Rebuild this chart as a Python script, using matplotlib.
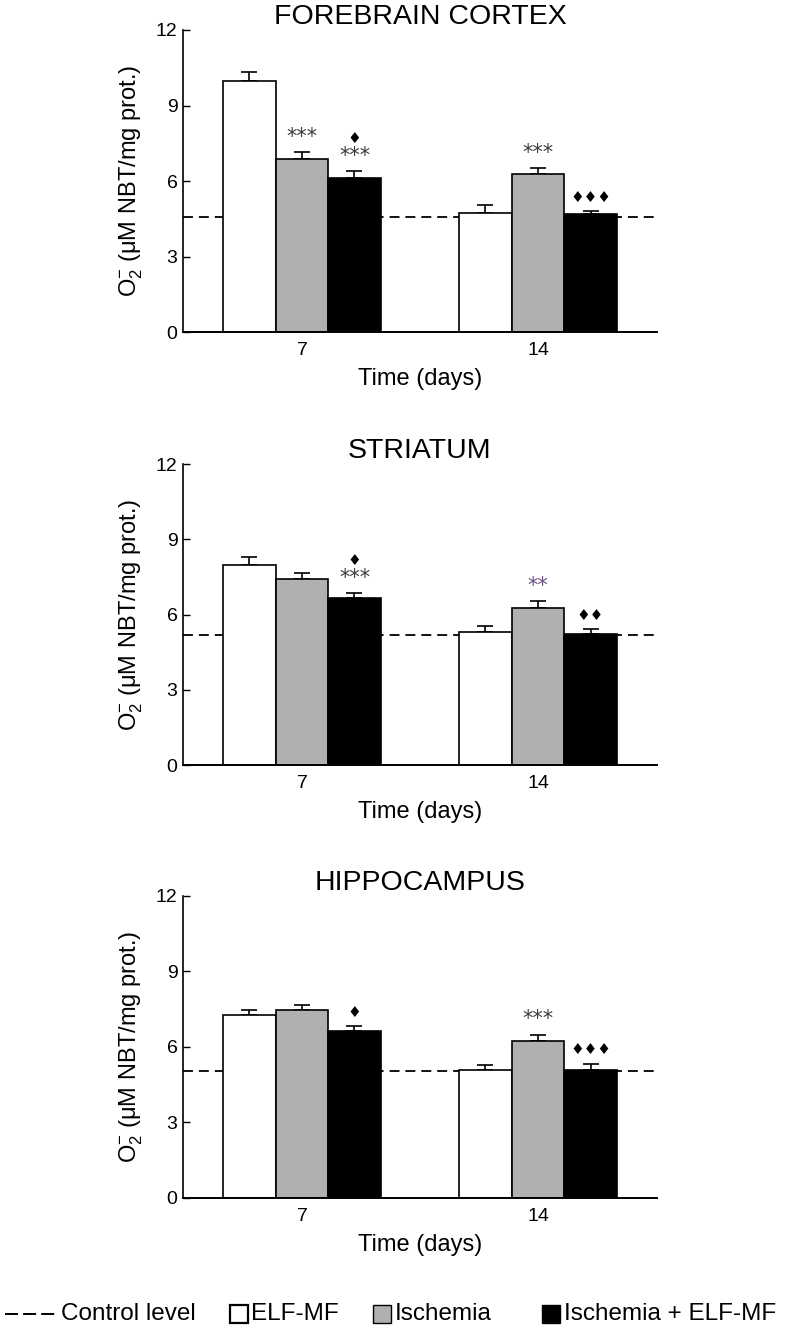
import numpy as np
import matplotlib
matplotlib.use("Agg")
import matplotlib.pyplot as plt
from matplotlib.patches import Rectangle
from matplotlib.lines import Line2D

plt.rcParams['font.family'] = ['Liberation Sans', 'DejaVu Sans']
plt.rcParams['mathtext.fontset'] = 'custom'
plt.rcParams['mathtext.rm'] = 'Liberation Sans'
plt.rcParams['mathtext.it'] = 'Liberation Sans'

# data
days = ["7", "14"]
groups = ["ELF-MF", "Ischemia", "Ischemia + ELF-MF"]
colors = ["white", "#b0b0b0", "black"]
regions = ["FOREBRAIN CORTEX", "STRIATUM", "HIPPOCAMPUS"]

cortex_mean = [[9.96, 4.73], [6.88, 6.26], [6.12, 4.67]]
cortex_err = [[0.37, 0.32], [0.26, 0.26], [0.26, 0.12]]
cortex_control = 4.56

striatum_mean = [[7.97, 5.29], [7.42, 6.24], [6.66, 5.24]]
striatum_err = [[0.34, 0.27], [0.25, 0.30], [0.18, 0.18]]
striatum_control = 5.18

hippo_mean = [[7.25, 5.08], [7.45, 6.23], [6.63, 5.09]]
hippo_err = [[0.20, 0.21], [0.22, 0.26], [0.20, 0.25]]
hippo_control = 5.05

# significance marks: (group, day) -> list of (text, color) from bottom up
star = "#3c3c3c"
cortex_marks = {(1, 0): [("***", star)],
                (2, 0): [("***", star), ("\u2666", "black")],
                (1, 1): [("***", star)],
                (2, 1): [("\u2666\u2666\u2666", "black")]}
striatum_marks = {(2, 0): [("***", star), ("\u2666", "black")],
                  (1, 1): [("**", "#6e4f80")],
                  (2, 1): [("\u2666\u2666", "black")]}
hippo_marks = {(2, 0): [("\u2666", "black")],
               (1, 1): [("***", star)],
               (2, 1): [("\u2666\u2666\u2666", "black")]}

panels = [
    (regions[0], cortex_mean, cortex_err, cortex_control, cortex_marks),
    (regions[1], striatum_mean, striatum_err, striatum_control, striatum_marks),
    (regions[2], hippo_mean, hippo_err, hippo_control, hippo_marks),
]

fig = plt.figure(figsize=(7.85, 13.33), dpi=100)
rects = [[0.2331, 0.7509, 0.6038, 0.2266],
         [0.2331, 0.4261, 0.6038, 0.2258],
         [0.2331, 0.1013, 0.6038, 0.2266]]
width = 0.2225
x = np.arange(len(days))

for (title, mean, err, control, marks), rect in zip(panels, rects):
    ax = fig.add_axes(rect)
    ax.axhline(control, color="black", lw=1.3, ls=(0, (5.5, 3.3)), zorder=0)
    for g in range(3):
        xpos = x + (g - 1) * width
        ax.bar(xpos, mean[g], width, color=colors[g], edgecolor="black",
               linewidth=1.2, zorder=2)
        ax.errorbar(xpos, mean[g], yerr=[np.zeros(2), err[g]], fmt="none",
                    ecolor="black", elinewidth=1.2, capsize=6, capthick=1.2,
                    zorder=1)
    for (g, d), items in marks.items():
        top = mean[g][d] + err[g][d]
        off = 7
        for txt, col in items:
            if "*" in txt:
                fs, dy, step = 15, 4, 14
            else:
                fs, dy, step = 11, 3, 13
            ax.annotate(txt, (x[d] + (g - 1) * width, top),
                        xytext=(0, off + dy), textcoords="offset points",
                        ha="center", va="center", fontsize=fs, color=col,
                        family=['DejaVu Sans'])
            off += step
    ax.set_xlim(-0.504, 1.504)
    ax.set_ylim(0, 12)
    ax.set_yticks([0, 3, 6, 9, 12])
    ax.set_xticks(x)
    ax.set_xticklabels(days)
    ax.tick_params(axis="x", length=0, labelsize=14, pad=7)
    ax.tick_params(axis="y", direction="in", length=5, width=1.0,
                   labelsize=14, pad=4)
    for s in ["top", "right"]:
        ax.spines[s].set_visible(False)
    ax.spines["left"].set_linewidth(1.2)
    ax.spines["bottom"].set_linewidth(1.4)
    ax.set_title(title, fontsize=20.5, pad=0)
    ax.set_xlabel("Time (days)", fontsize=17, labelpad=7)
    ax.set_ylabel("O$_2^{-}$ (\u03bcM NBT/mg prot.)", fontsize=17, labelpad=8)

# legend row at the bottom, drawn in figure pixels
ly = 1 - 1314 / 1333
W, H = 785.0, 1333.0
fig.add_artist(Line2D([5 / W, 56 / W], [ly, ly], transform=fig.transFigure,
                      color="black", lw=1.4, ls=(0, (6.7, 2.6))))
fig.text(61 / W, ly, "Control level", fontsize=17.5, va="center", ha="left")
box_x = [230, 373, 542]
text_x = [251, 395, 564]
for g in range(3):
    fig.add_artist(Rectangle((box_x[g] / W, ly - 9 / H), 18 / W, 18 / H,
                             transform=fig.transFigure, facecolor=colors[g],
                             edgecolor="black", lw=1.6 if g == 0 else 1.0))
    fig.text(text_x[g] / W, ly, groups[g], fontsize=17.5, va="center",
             ha="left")

fig.savefig("out.png", dpi=100)
